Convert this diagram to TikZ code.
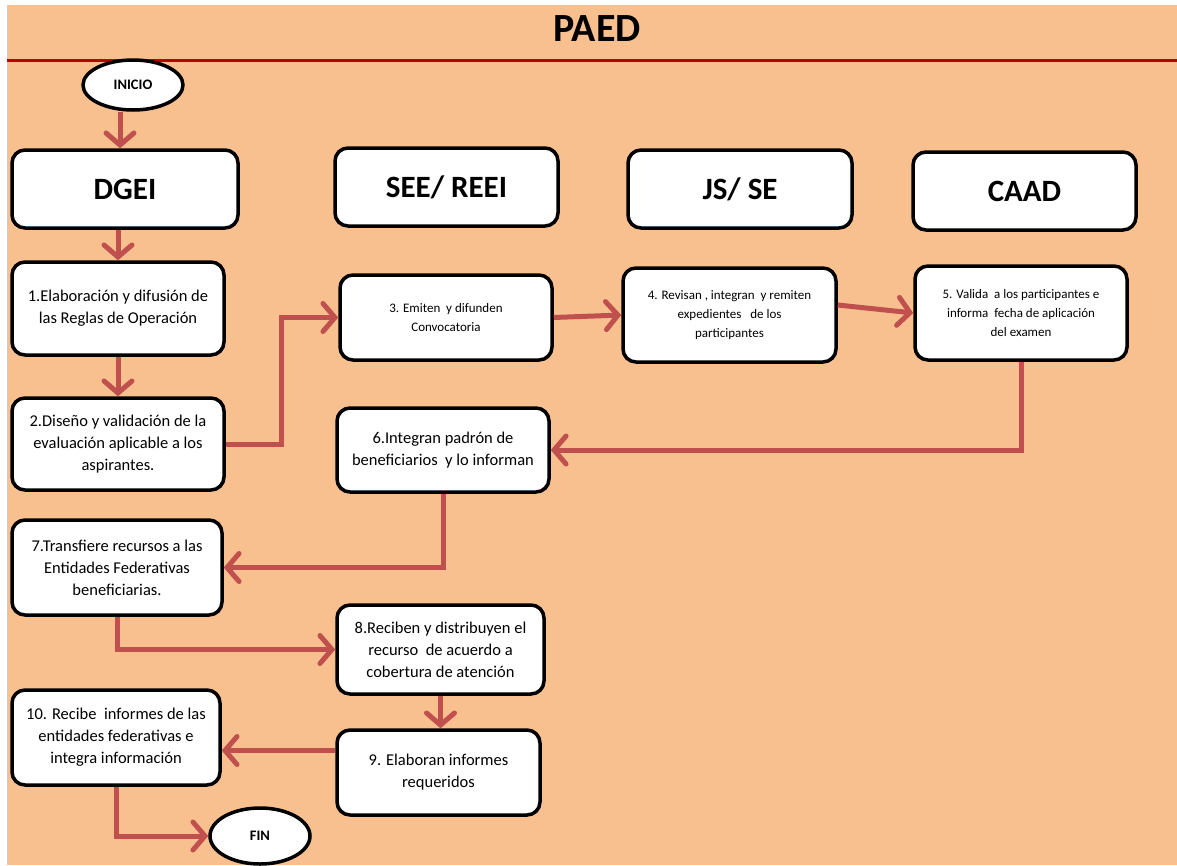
\documentclass[tikz,border=0pt]{standalone}
\usepackage{fontspec}
\setmainfont{Carlito}
\usetikzlibrary{arrows.meta,shapes.geometric}
\definecolor{peach}{RGB}{249,192,143}
\definecolor{arrowred}{RGB}{192,80,77}
\definecolor{titlered}{RGB}{192,0,0}
\tikzset{
  stepbox/.style={draw=black, line width=3.5pt, fill=white, rounded corners=13pt,
    align=center, inner sep=2pt, font=\fontsize{16.5}{22}\selectfont},
  smallbox/.style={stepbox, font=\fontsize{13}{19}\selectfont},
  headbox/.style={stepbox, font=\bfseries\fontsize{31}{34}\selectfont},
  terminal/.style={draw=black, line width=3.5pt, fill=white, ellipse, inner sep=0pt,
    font=\bfseries\fontsize{14.5}{16}\selectfont},
  arr/.style={draw=arrowred, line width=5pt,
    -{Straight Barb[length=12pt,width=28pt,line cap=round]}},
}
\begin{document}
\begin{tikzpicture}[x=1pt,y=-1pt]
\useasboundingbox (0,0) rectangle (1177,865);
\fill[white] (0,0) rectangle (1177,865);
\fill[peach] (7,5) rectangle (1177,865);
\draw[gray!40, line width=1pt] (7,5) -- (7,865);
\draw[titlered, line width=3pt] (7,60) -- (1177,60);
\node[font=\bfseries\fontsize{40}{44}\selectfont] (title) at (597,29) {PAED};

\node[terminal, minimum width=100pt, minimum height=50pt] (inicio) at (133,85) {INICIO};
\node[terminal, minimum width=100pt, minimum height=56pt] (fin) at (260,836) {FIN};

\node[headbox, minimum width=226pt, minimum height=78pt] (dgei) at (125,189) {DGEI};
\node[headbox, minimum width=223pt, minimum height=78pt] (see) at (446.5,187) {SEE/ REEI};
\node[headbox, minimum width=224pt, minimum height=78pt] (js) at (740,189) {JS/ SE};
\node[headbox, minimum width=223pt, minimum height=78pt] (caad) at (1024.5,191) {CAAD};

\node[stepbox, minimum width=212pt, minimum height=93pt] (b1) at (118,308.5)
  {1.Elaboración y difusión de\\las Reglas de Operación};
\node[stepbox, minimum width=212pt, minimum height=92pt] (b2) at (118,444)
  {2.Diseño y validación de la\\evaluación aplicable a los\\aspirantes.};
\node[smallbox, minimum width=212pt, minimum height=85pt] (b3) at (446,317.5)
  {3. Emiten\ \ y difunden\\Convocatoria};
\node[smallbox, minimum width=213pt, minimum height=94pt] (b4) at (729.5,315)
  {4. Revisan , integran\ \ y remiten\\expedientes\ \ \ de los\\participantes};
\node[smallbox, minimum width=212pt, minimum height=94pt] (b5) at (1021,313)
  {5. Valida\ \ a los participantes\ e\\informa\ \ fecha de aplicación\\del examen};
\node[stepbox, minimum width=212pt, minimum height=84pt] (b6) at (443,450)
  {6.Integran padrón de\\beneficiarios\ \ y lo informan};
\node[stepbox, minimum width=210pt, minimum height=95pt] (b7) at (117,567.5)
  {7.Transfiere recursos a las\\Entidades Federativas\\beneficiarias.};
\node[stepbox, minimum width=207pt, minimum height=89pt] (b8) at (440.5,649.5)
  {8.Reciben y distribuyen el\\recurso\ \ de acuerdo a\\cobertura de atención};
\node[stepbox, minimum width=203pt, minimum height=85pt] (b9) at (438.5,772.5)
  {9. Elaboran informes\\requeridos};
\node[stepbox, minimum width=208pt, minimum height=95pt] (b10) at (116,737.5)
  {10. Recibe\ \ informes de las\\entidades federativas e\\integra información};

\draw[arr] ([xshift=-13pt]inicio.south) -- ([xshift=-13pt]inicio.south |- dgei.north);
\draw[arr] (b1.north |- dgei.south) -- (b1.north);
\draw[arr] (b1.south) -- (b2.north);
\draw[arr] (b2.east) -- ++(56,0) |- (b3.west);
\draw[arr] (b3.east) -- (b4.west);
\draw[arr] ([yshift=10pt]b4.east) -- (b5.west);
\draw[arr] (b5.south) |- (b6.east);
\draw[arr] (b6.south) |- (b7.east);
\draw[arr] (b7.south) |- (b8.west);
\draw[arr] (b8.south) -- (b8.south |- b9.north);
\draw[arr] ([yshift=22pt]b9.west) -- ([yshift=22pt]b9.west -| b10.east);
\draw[arr] (b10.south) |- (fin.west);
\end{tikzpicture}
\end{document}
